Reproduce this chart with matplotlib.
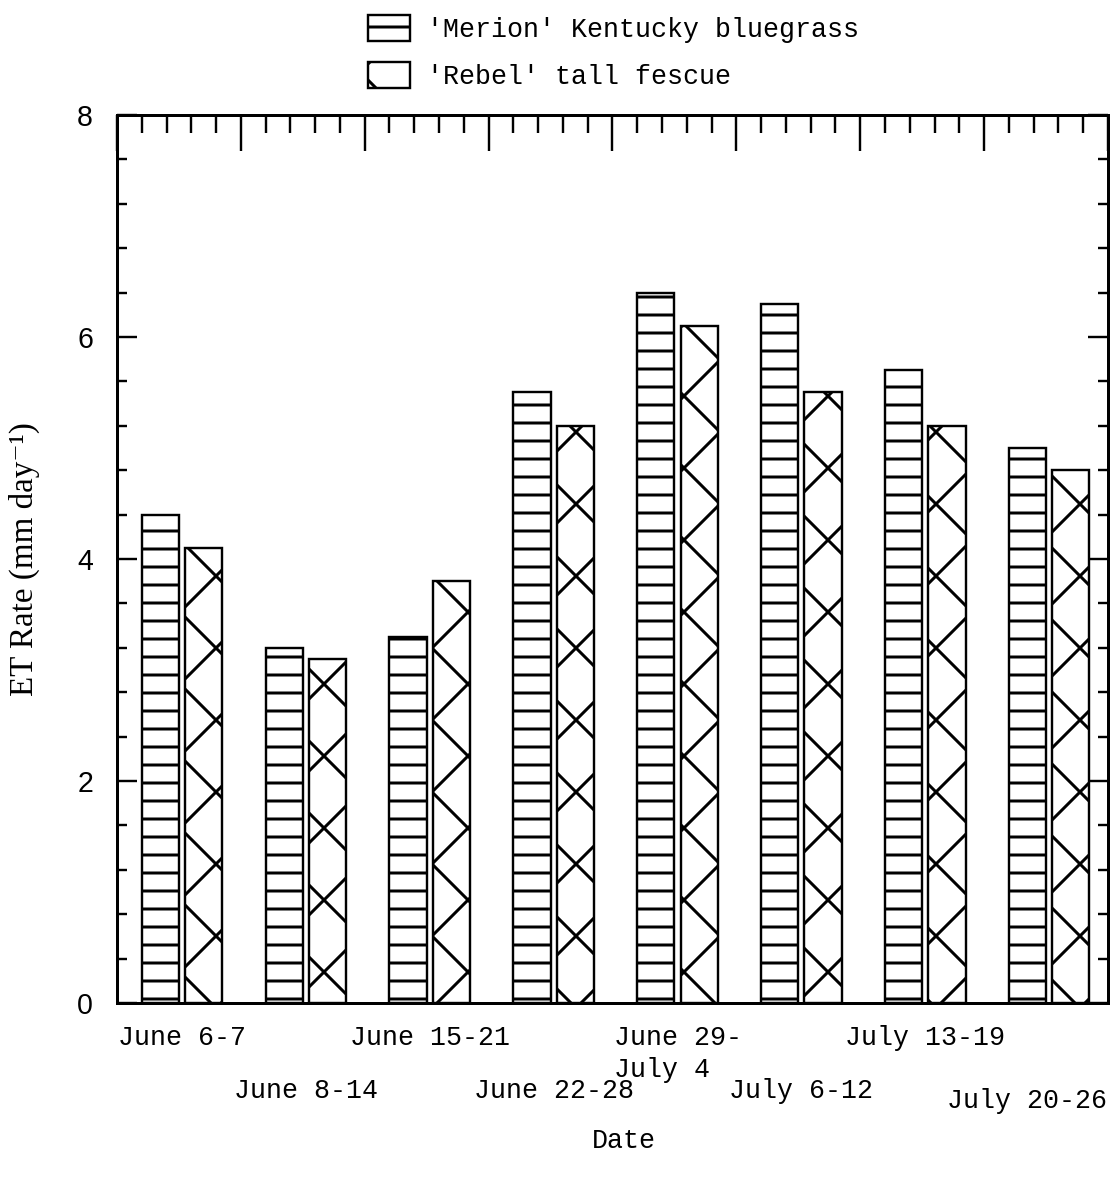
import numpy as np
import matplotlib.pyplot as plt
from matplotlib.ticker import MultipleLocator

# weekly ET rates for the two turfgrasses
periods = ['June 6-7', 'June 8-14', 'June 15-21', 'June 22-28',
           'June 29-\nJuly 4', 'July 6-12', 'July 13-19', 'July 20-26']
merion = [4.4, 3.2, 3.3, 5.5, 6.4, 6.3, 5.7, 5.0]
rebel = [4.1, 3.1, 3.8, 5.2, 6.1, 5.5, 5.2, 4.8]

# date labels are staggered on two rows (offsets in points)
label_dy = [-7.3, -25.0, -7.3, -25.0, -7.3, -25.0, -7.3, -28.5]
label_dx = [0, 0, 0, 0, 0, 0, 0, -7.5]

mono = ['Liberation Mono', 'DejaVu Sans Mono']
serif = ['Liberation Serif', 'DejaVu Serif']

plt.rcParams['hatch.linewidth'] = 1.0
plt.rcParams['hatch.color'] = 'black'

fig = plt.figure(figsize=(1114 / 216, 1184 / 216), dpi=216)
ax = fig.add_axes([0.105, 0.1529, 0.8896, 0.75])

x = np.arange(len(periods))
b1 = ax.bar(x + 0.35, merion, width=0.30, facecolor='white', edgecolor='black',
            linewidth=0.8, hatch='--', label="'Merion' Kentucky bluegrass")
b2 = ax.bar(x + 0.70, rebel, width=0.30, facecolor='white', edgecolor='black',
            linewidth=0.8, hatch='x', label="'Rebel' tall fescue")

ax.set_xlim(0, 8)
ax.set_ylim(0, 8)
ax.xaxis.set_major_locator(MultipleLocator(1))
ax.xaxis.set_minor_locator(MultipleLocator(0.2))
ax.yaxis.set_major_locator(MultipleLocator(2))
ax.yaxis.set_minor_locator(MultipleLocator(0.4))

ax.tick_params(axis='y', which='both', direction='in', left=True, right=True,
               width=0.8, labelsize=9.5, pad=8)
ax.tick_params(axis='y', which='major', length=6.7)
ax.tick_params(axis='y', which='minor', length=3.3)
ax.tick_params(axis='x', which='both', direction='in', top=True, bottom=False,
               labelbottom=False, width=0.8)
ax.tick_params(axis='x', which='major', length=12)
ax.tick_params(axis='x', which='minor', length=6)
for lab in ax.get_yticklabels():
    lab.set_family(['Liberation Sans', 'DejaVu Sans'])
for sp in ax.spines.values():
    sp.set_linewidth(1.0)

# staggered period labels under each pair of bars
centers = x + (0.35 + 0.70) / 2
for cx, text, dx, dy in zip(centers, periods, label_dx, label_dy):
    ax.annotate(text, xy=(cx, 0), xycoords=ax.get_xaxis_transform(),
                xytext=(dx, dy), textcoords='offset points',
                ha='center', va='top', multialignment='left',
                family=mono, fontsize=8.9, linespacing=1.3)

ax.set_ylabel('ET Rate (mm day\u207b\u00b9)', family=serif, fontsize=11)
ax.yaxis.set_label_coords(-0.078, 0.5)
ax.set_xlabel('Date', family=mono, fontsize=8.9)
ax.xaxis.set_label_coords(0.512, -0.141)

fig.legend(handles=[b1, b2], loc='upper left', bbox_to_anchor=(0.330, 0.987),
           frameon=False, borderpad=0, borderaxespad=0,
           handlelength=1.57, handleheight=1.12, handletextpad=0.67,
           labelspacing=0.7, prop={'family': mono, 'size': 8.9})

fig.savefig('out.png', dpi=216, facecolor='white')
